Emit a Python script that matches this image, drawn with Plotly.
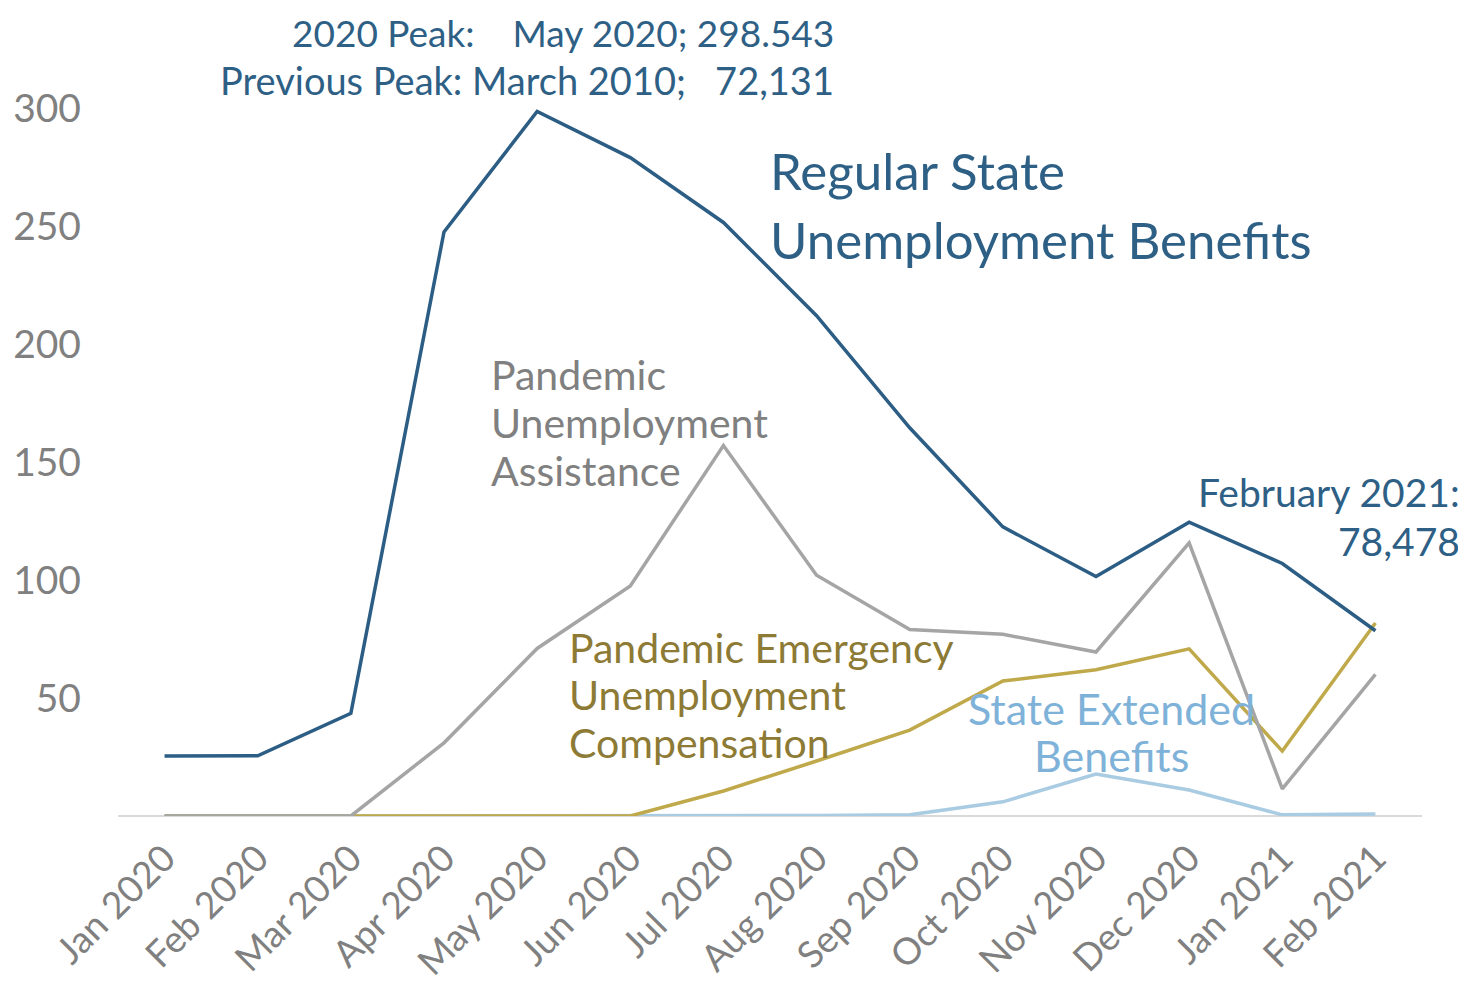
import plotly.graph_objects as go

months = ["Jan 2020", "Feb 2020", "Mar 2020", "Apr 2020", "May 2020", "Jun 2020", "Jul 2020",
          "Aug 2020", "Sep 2020", "Oct 2020", "Nov 2020", "Dec 2020", "Jan 2021", "Feb 2021"]
regular_state = [25.4, 25.5, 43.5, 247.5, 298.5, 279, 251.5, 212, 164.5, 122.5, 101.5, 124.5, 107, 78.5]
pua = [0, 0, 0, 31, 71, 97.5, 157, 102, 79, 77, 69.5, 115.7, 11.5, 60]
peuc = [0, 0, 0, 0, 0, 0, 10.6, 23.3, 36.4, 57.2, 62, 70.8, 27.5, 81.8]
state_extended = [0, 0, 0, 0, 0, 0, 0.1, 0.2, 0.5, 6, 17.8, 11, 0.5, 0.8]
y_ticks = [50, 100, 150, 200, 250, 300]

FONT = "Lato"
OFF = 8  # page body margin
W, H = 1456, 980
L, T = 110, 100
R = W - 1414
B = H - 808

def px(x):
    return (x - OFF - L) / (W - L - R)

def py(y):
    return 1 - (y - OFF - T) / (H - T - B)

fig = go.Figure()
fig.add_trace(go.Scatter(x=months, y=state_extended, mode="lines",
                         line=dict(color="#A9CCE3", width=3.5), cliponaxis=False))
fig.add_trace(go.Scatter(x=months, y=peuc, mode="lines",
                         line=dict(color="#BFA94A", width=3.5), cliponaxis=False))
fig.add_trace(go.Scatter(x=months, y=pua, mode="lines",
                         line=dict(color="#A5A5A5", width=3.5), cliponaxis=False))
fig.add_trace(go.Scatter(x=months, y=regular_state, mode="lines",
                         line=dict(color="#2C5D84", width=3.5), cliponaxis=False))

navy = "#2E6086"
ann = []

def label(lines, x, y0, dy, anchor, size, color):
    for i, t in enumerate(lines):
        ann.append(dict(text=t, x=px(x), y=py(y0 + i * dy), xanchor=anchor, yanchor="middle",
                        xref="paper", yref="paper", showarrow=False,
                        font=dict(size=size, color=color, family=FONT)))

label(["2020 Peak:&nbsp;&nbsp;&nbsp;&nbsp;May 2020; 298.543"], 836, 32, 0, "right", 37, navy)
label(["Previous Peak: March 2010;&nbsp;&nbsp;&nbsp;72,131"], 836, 80, 0, "right", 38, navy)
label(["Regular State", "Unemployment Benefits"], 768, 170, 70, "left", 51, navy)
label(["Pandemic", "Unemployment", "Assistance"], 489, 374, 48, "left", 41, "#808080")
label(["Pandemic Emergency", "Unemployment", "Compensation"], 567, 647, 47.5, "left", 41, "#8C7A35")
label(["State Extended", "Benefits"], 1111, 708, 47.5, "center", 43, "#7FB2D8")
label(["February 2021:", "78,478"], 1462, 492, 49, "right", 39, navy)

fig.update_layout(
    width=W, height=H,
    margin=dict(l=L, r=R, t=T, b=B),
    paper_bgcolor="white", plot_bgcolor="white",
    showlegend=False,
    font=dict(family=FONT, color="#808080"),
    annotations=ann,
    xaxis=dict(type="category", range=[-0.5, 13.5], showgrid=False, zeroline=False,
               showline=False, ticks="", tickangle=-45, ticklabelstandoff=12, automargin=False,
               tickfont=dict(size=37, color="#808080")),
    yaxis=dict(range=[0, 300], tickvals=y_ticks, showgrid=False, zeroline=True,
               zerolinecolor="#D9D9D9", zerolinewidth=2, showline=False, ticks="",
               ticklabelstandoff=36, automargin=False,
               tickfont=dict(size=39, color="#808080")),
)

fig.write_html("out.html")
